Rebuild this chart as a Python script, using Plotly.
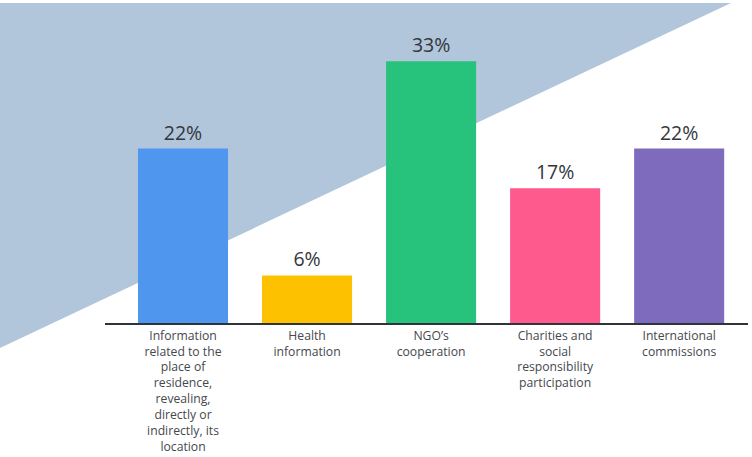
import plotly.graph_objects as go

# Survey shares by category of shared information
categories = [
    "Information<br>related to the<br>place of<br>residence,<br>revealing,<br>directly or<br>indirectly, its<br>location",
    "Health<br>information",
    "NGO’s<br>cooperation",
    "Charities and<br>social<br>responsibility<br>participation",
    "International<br>commissions",
]
values = [22, 6, 33, 17, 22]
bar_colors = ["#4f97ee", "#fdc100", "#27c27b", "#fe5a8d", "#7e6bbd"]

W, H = 752, 457
M_L, M_R, M_T, M_B = 105, 4, 0, 134
PLOT_W = W - M_L - M_R
PLOT_H = H - M_T - M_B


def to_paper(px, py):
    """Convert page pixel coordinates into paper coordinates of the plot area."""
    return (px - M_L) / PLOT_W, (H - M_B - py) / PLOT_H


# Decorative pale-blue wedge in the upper-left of the background
wedge = [to_paper(0, 3), to_paper(731, 3), to_paper(0, 348)]
wedge_path = "M {} {} L {} {} L {} {} Z".format(*[c for p in wedge for c in p])

fig = go.Figure(
    go.Bar(
        x=list(range(len(values))),
        y=values,
        marker=dict(color=bar_colors, line=dict(width=0)),
        width=0.726,
        text=[f"{v}%" for v in values],
        textposition="outside",
        textfont=dict(family="Open Sans", size=19.5, color="#33373d"),
        cliponaxis=False,
    )
)

fig.add_shape(
    type="path",
    path=wedge_path,
    xref="paper",
    yref="paper",
    fillcolor="#b1c5db",
    line=dict(width=0),
    layer="below",
)

fig.update_layout(
    width=W,
    height=H,
    margin=dict(l=M_L, r=M_R, t=M_T, b=M_B, autoexpand=False),
    paper_bgcolor="white",
    plot_bgcolor="rgba(0,0,0,0)",
    showlegend=False,
    xaxis=dict(
        range=[-0.629, 4.555],
        tickmode="array",
        tickvals=list(range(len(values))),
        ticktext=categories,
        tickfont=dict(family="Open Sans", size=12.2, color="#45484d"),
        automargin=False,
        showline=True,
        linecolor="#2f333a",
        linewidth=2,
        showgrid=False,
        zeroline=False,
        ticks="",
    ),
    yaxis=dict(
        range=[0, PLOT_H / 7.93],
        visible=False,
        showgrid=False,
        zeroline=False,
    ),
)

fig.write_html("out.html")
